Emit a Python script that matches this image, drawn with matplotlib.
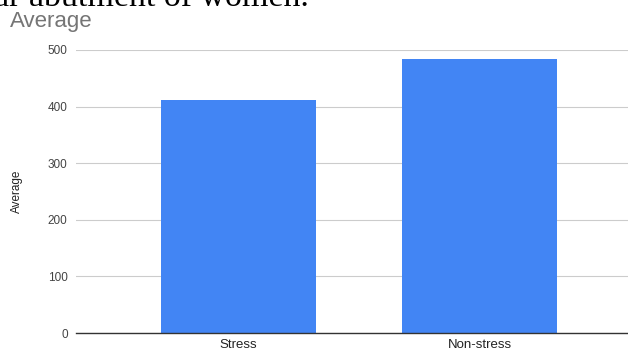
import matplotlib
matplotlib.use("Agg")
from matplotlib import pyplot as plt

groups = ["Stress", "Non-stress"]
averages = [412, 484]
y_ticks = [0, 100, 200, 300, 400, 500]

fig = plt.figure(figsize=(6.28, 3.54), dpi=100)
ax = fig.add_axes([76 / 628, 21 / 354, 1 - 76 / 628, 283 / 354])

xs = list(range(len(groups)))
ax.bar(xs, averages, width=0.643, color="#4285F4", zorder=3)

ax.set_xlim(-0.674, 1.616)
ax.set_ylim(0, 500)
ax.set_yticks(y_ticks)
ax.set_xticks(xs)
ax.set_xticklabels(groups, fontsize=9.5, color="#222222", family="Liberation Sans")
ax.tick_params(axis="y", length=0, pad=6, labelsize=8.5, labelcolor="#444444")
ax.tick_params(axis="x", length=0, pad=4)
for lbl in ax.get_yticklabels():
    lbl.set_family("Liberation Sans")

ax.grid(axis="y", color="#cccccc", linewidth=0.8, zorder=0)
for side in ["top", "right", "left"]:
    ax.spines[side].set_visible(False)
ax.spines["bottom"].set_color("#333333")
ax.spines["bottom"].set_linewidth(1.0)
ax.spines["bottom"].set_zorder(4)

ax.set_ylabel("Average", fontsize=8.5, color="#222222", family="Liberation Sans", labelpad=18)

# chart title and the tail of the caption line above it
fig.text(10 / 628, 1 - 27 / 354, "Average", fontsize=16, color="#757575",
         family="Liberation Sans", va="baseline")
fig.text(-6 / 628, 1 - 6.5 / 354, "ar abutment of women.", fontsize=24.5, color="black",
         family="Liberation Serif", va="baseline")

fig.savefig("out.png", dpi=100)
